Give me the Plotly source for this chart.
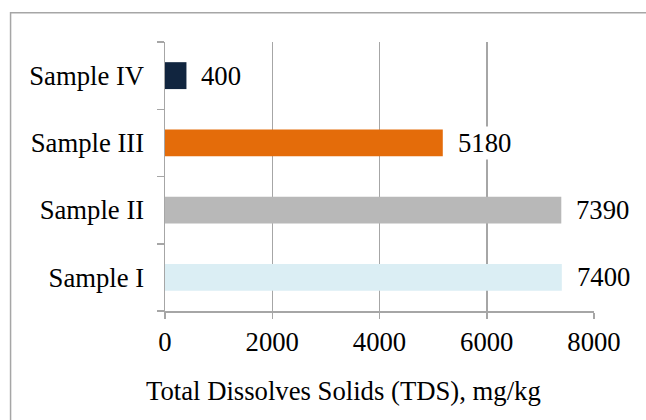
import plotly.graph_objects as go

categories = ["Sample I", "Sample II", "Sample III", "Sample IV"]
values = [7400, 7390, 5180, 400]
colors = ["#dbeef4", "#b8b8b8", "#e46c0a", "#11253f"]
x_ticks = [0, 2000, 4000, 6000, 8000]
x_title = "Total Dissolves Solids (TDS), mg/kg"

FONT = "Liberation Serif, Times New Roman, serif"
FS = 26.7
GRID = "#a6a6a6"

fig = go.Figure()
fig.add_trace(go.Bar(
    x=values, y=categories, orientation="h",
    marker=dict(color=colors, line=dict(width=0)),
    width=0.4, hoverinfo="skip",
))

for v, c in zip(values, categories):
    fig.add_annotation(
        x=v, y=c, xref="x", yref="y", text=str(v), showarrow=False,
        xanchor="left", yanchor="middle", xshift=13,
        font=dict(family=FONT, size=FS, color="#000000"),
        bgcolor="#ffffff", borderpad=1,
    )

# axis title, centred on the whole chart frame as in the reference
fig.add_annotation(
    x=0.416, y=-0.297, xref="paper", yref="paper", text=x_title,
    showarrow=False, xanchor="center", yanchor="middle",
    font=dict(family=FONT, size=FS, color="#000000"),
)

fig.add_shape(
    type="rect", xref="paper", yref="paper",
    x0=-0.360, x1=1.3, y0=-0.6, y1=1.109,
    line=dict(color=GRID, width=1.5), fillcolor="rgba(0,0,0,0)", layer="below",
)

fig.update_layout(
    width=646, height=420,
    margin=dict(l=165, r=52, t=42, b=109),
    paper_bgcolor="#ffffff", plot_bgcolor="#ffffff",
    showlegend=False,
    font=dict(family=FONT, size=FS, color="#000000"),
    xaxis=dict(
        range=[0, 8000], tickvals=x_ticks, ticktext=[str(t) for t in x_ticks],
        showgrid=True, gridcolor=GRID, gridwidth=1.5,
        showline=True, linecolor=GRID, linewidth=1.5,
        ticks="outside", ticklen=6, tickwidth=1.5, tickcolor=GRID,
        zeroline=False, fixedrange=True,
        tickfont=dict(family=FONT, size=FS),
    ),
    yaxis=dict(
        type="category", categoryorder="array", categoryarray=categories,
        showgrid=False, showline=True, linecolor=GRID, linewidth=1.5,
        ticks="outside", tickson="boundaries", ticklen=7, tickwidth=1.5, tickcolor=GRID,
        ticklabelstandoff=14,
        tickfont=dict(family=FONT, size=FS), zeroline=False, fixedrange=True,
    ),
    bargap=0.6,
)

fig.write_html(
    "out.html",
    config={"displayModeBar": False, "staticPlot": True},
    post_script="document.body.style.margin='0';document.body.style.overflow='hidden';",
)
